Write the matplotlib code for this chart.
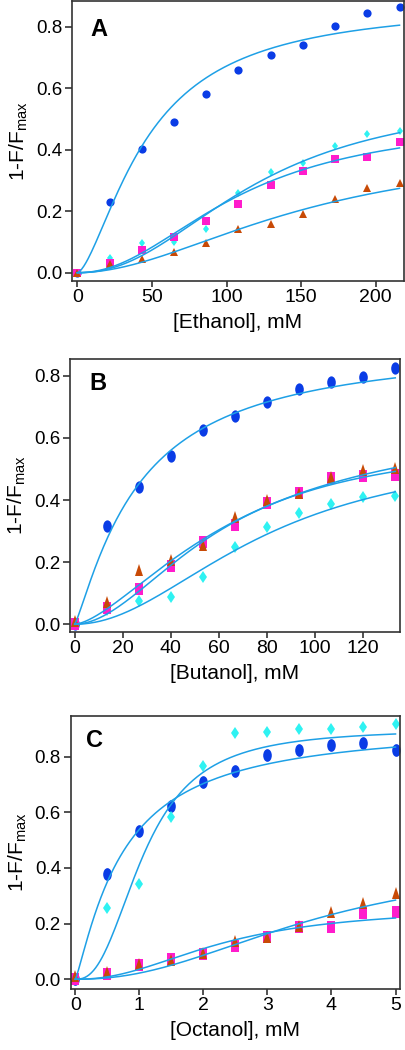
import numpy as np
import matplotlib
matplotlib.use("Agg")
import matplotlib.pyplot as plt
from matplotlib.markers import MarkerStyle
from matplotlib.transforms import Affine2D
from matplotlib.ticker import FormatStrFormatter

plt.rcParams['font.family'] = ['Liberation Sans', 'DejaVu Sans']
plt.rcParams['mathtext.fontset'] = 'custom'
plt.rcParams['mathtext.rm'] = 'Liberation Sans'

# ---------------- data ----------------
# Panel A: ethanol (mM)
ethanol = [0, 21.6, 43.2, 64.8, 86.4, 108, 129.6, 151.2, 172.8, 194.4, 216]
A_blue = [0, 0.229, 0.403, 0.489, 0.580, 0.660, 0.709, 0.740, 0.802, 0.844, 0.864]
A_cyan = [0, 0.047, 0.095, 0.100, 0.142, 0.258, 0.327, 0.358, 0.411, 0.451, 0.459]
A_magenta = [0, 0.032, 0.074, 0.115, 0.168, 0.222, 0.284, 0.330, 0.370, 0.376, 0.424]
A_orange = [0, 0.028, 0.044, 0.068, 0.095, 0.141, 0.157, 0.192, 0.241, 0.275, 0.291]
# Hill fit parameters (Bmax, K, n)
A_fit_blue = [0.88, 47, 1.55]
A_fit_cyan = [0.58, 120, 2.2]
A_fit_magenta = [0.50, 108, 2.1]
A_fit_orange = [0.42, 155, 1.9]

# Panel B: butanol (mM)
butanol = [0, 13.33, 26.67, 40, 53.33, 66.67, 80, 93.33, 106.67, 120, 133.33]
B_blue = [0, 0.317, 0.443, 0.543, 0.627, 0.672, 0.715, 0.756, 0.780, 0.795, 0.825]
B_cyan = [0, 0.046, 0.076, 0.089, 0.153, 0.248, 0.312, 0.359, 0.387, 0.409, 0.413]
B_magenta = [0, 0.051, 0.113, 0.188, 0.266, 0.320, 0.389, 0.424, 0.470, 0.477, 0.480]
B_orange = [0.01, 0.073, 0.175, 0.207, 0.255, 0.346, 0.400, 0.424, 0.475, 0.497, 0.502]
B_fit_blue = [0.91, 27, 1.2]
B_fit_cyan = [0.58, 80, 2.0]
B_fit_magenta = [0.60, 60, 1.9]
B_fit_orange = [0.69, 70, 1.55]

# Panel C: octanol (mM)
octanol = [0, 0.5, 1, 1.5, 2, 2.5, 3, 3.5, 4, 4.5, 5]
C_blue = [0, 0.377, 0.531, 0.624, 0.710, 0.750, 0.806, 0.824, 0.840, 0.848, 0.824]
C_cyan = [0, 0.255, 0.341, 0.584, 0.767, 0.884, 0.890, 0.898, 0.898, 0.906, 0.917]
C_magenta = [0, 0.019, 0.052, 0.074, 0.090, 0.120, 0.151, 0.188, 0.189, 0.237, 0.243]
C_orange = [0.01, 0.027, 0.055, 0.070, 0.093, 0.139, 0.153, 0.191, 0.243, 0.275, 0.311]
C_fit_blue = [0.92, 0.75, 1.2]
C_fit_cyan = [0.90, 1.07, 2.5]
C_fit_magenta = [0.26, 2.3, 2.2]
C_fit_orange = [0.44, 3.8, 2.2]

x_labels = ['[Ethanol], mM', '[Butanol], mM', '[Octanol], mM']
panel_letters = ['A', 'B', 'C']
A_xticks = [0, 50, 100, 150, 200]
B_xticks = [0, 20, 40, 60, 80, 100, 120]
C_xticks = [0, 1, 2, 3, 4, 5]
yticks = [0.0, 0.2, 0.4, 0.6, 0.8]

# ---------------- style ----------------
C_BLUE = '#0a3ce6'
C_CYAN = '#2ef2f2'
C_MAG = '#ff1ccc'
C_ORA = '#c84a06'
C_LINE = '#1ea0e6'
PX = 72 / 100.0  # points per pixel at dpi 100


def mk(kind, w_px, h_px):
    """Return (MarkerStyle, markersize in points) for a marker w_px wide, h_px tall."""
    if kind == 'D':
        ms = h_px / np.sqrt(2) * PX
    else:
        ms = h_px * PX
    st = MarkerStyle(kind, transform=Affine2D().scale(w_px / h_px, 1.0))
    return st, ms


def hill(x, p):
    b, k, n = p
    x = np.asarray(x, dtype=float)
    return b * x ** n / (k ** n + x ** n)


fig = plt.figure(figsize=(4.05, 10.5), dpi=100)

axes_pos = [
    [72 / 405, (1050 - 281) / 1050, 332 / 405, 280 / 1050],
    [70 / 405, (1050 - 632) / 1050, 330 / 405, 273 / 1050],
    [70.7 / 405, (1050 - 989) / 1050, 329.3 / 405, 273.3 / 1050],
]
xlims = [(-3.6, 219), (-1.95, 135.3), (-0.072, 5.07)]
ylims = [(-0.027, 0.883), (-0.025, 0.854), (-0.035, 0.947)]
letter_pos = [(0.054, 0.938), (0.058, 0.951), (0.046, 0.950)]

panels = [
    (ethanol, [A_blue, A_cyan, A_magenta, A_orange],
     [A_fit_blue, A_fit_cyan, A_fit_magenta, A_fit_orange], A_xticks, 1.0),
    (butanol, [B_blue, B_cyan, B_magenta, B_orange],
     [B_fit_blue, B_fit_cyan, B_fit_magenta, B_fit_orange], B_xticks, 1.5),
    (octanol, [C_blue, C_cyan, C_magenta, C_orange],
     [C_fit_blue, C_fit_cyan, C_fit_magenta, C_fit_orange], C_xticks, 1.55),
]

kinds = ['o', 'D', 's', '^']
colors = [C_BLUE, C_CYAN, C_MAG, C_ORA]
base_w = [8.2, 6.8, 7.6, 7.2]
base_h = [8.2, 8.8, 7.6, 7.6]
stretch_w = [1.0, 1.05, 1.05]

for i, (x, ys, fits, xt, sy) in enumerate(panels):
    ax = fig.add_axes(axes_pos[i])
    for j in range(4):
        w = base_w[j] * stretch_w[i]
        h = base_h[j] * sy if i > 0 else base_h[j]
        if i > 0 and kinds[j] == 'D':
            h = 12.8
        st, ms = mk(kinds[j], w, h)
        ax.plot(x, ys[j], linestyle='none', marker=st, markersize=ms,
                color=colors[j], markeredgewidth=0, zorder=2)
    xx = np.linspace(0, x[-1], 300)
    for p in fits:
        ax.plot(xx, hill(xx, p), color=C_LINE, lw=1.1, zorder=3)

    ax.set_xlim(*xlims[i])
    ax.set_ylim(*ylims[i])
    ax.set_xticks(xt)
    ax.set_yticks(yticks)
    ax.yaxis.set_major_formatter(FormatStrFormatter('%.1f'))
    ax.tick_params(axis='x', direction='out', length=4, width=1.1,
                   labelsize=14, pad=1.5, colors='#222222', labelcolor='black')
    ax.tick_params(axis='y', direction='out', length=5, width=1.1,
                   labelsize=13.5, pad=2, colors='#222222', labelcolor='black')
    for s in ax.spines.values():
        s.set_linewidth(1.2)
        s.set_color('#333333')
    ax.set_xlabel(x_labels[i], fontsize=15, labelpad=5)
    ax.set_ylabel('1-F/F$_{\\mathregular{max}}$', fontsize=15, labelpad=4)
    ax.text(letter_pos[i][0], letter_pos[i][1], panel_letters[i],
            transform=ax.transAxes, fontsize=17, fontweight='bold',
            ha='left', va='top')

fig.savefig('out.png', dpi=100)
